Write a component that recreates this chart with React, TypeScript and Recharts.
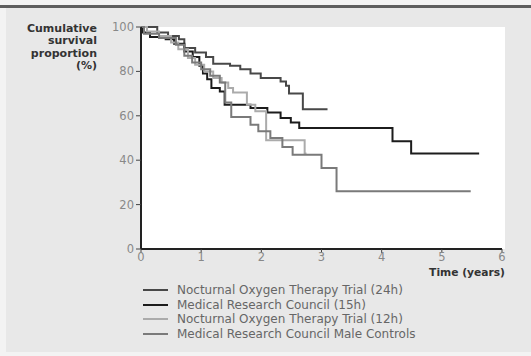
import { LineChart, Line, XAxis, YAxis, Legend, Label } from 'recharts'

// Kaplan-Meier steps: time in years, cumulative survival in %
const nott24Time = [0, 0.27, 0.45, 0.63, 0.72, 0.9, 1.08, 1.2, 1.48, 1.65, 1.82, 1.99, 2.32, 2.41, 2.46, 2.69, 3.1]
const nott24Surv = [100, 97.5, 96, 94.5, 90.5, 88.5, 86.5, 83.5, 82.5, 81, 79, 77, 75.5, 73.5, 70, 63, 63]

const mrc15Time = [0, 0.03, 0.15, 0.41, 0.55, 0.72, 0.86, 0.97, 1.03, 1.1, 1.17, 1.31, 1.39, 1.82, 2.1, 2.32, 2.49, 2.63, 4.18, 4.49, 5.62]
const mrc15Surv = [100, 97.5, 95.5, 94.5, 92.5, 89, 86.5, 82.5, 79, 76.5, 72.5, 71, 65, 63.5, 61.5, 59, 57, 54.5, 48.5, 43, 43]

const nott12Time = [0, 0.1, 0.3, 0.5, 0.62, 0.78, 0.9, 1.05, 1.2, 1.34, 1.45, 1.53, 1.76, 1.9, 2.08, 2.72, 2.75]
const nott12Surv = [100, 98, 96, 93, 90, 86, 83, 80, 77, 75, 72.5, 70.5, 65, 62, 49, 43, 43]

const mrcCtrlTime = [0, 0.05, 0.3, 0.58, 0.72, 0.85, 1.0, 1.15, 1.31, 1.4, 1.5, 1.82, 1.95, 2.15, 2.35, 2.52, 3.0, 3.25, 5.48]
const mrcCtrlSurv = [100, 97, 95, 92, 87, 84, 81, 78, 75, 66, 59.5, 56, 53, 50, 46, 42.5, 36.5, 26, 26]

const xTicks = [0, 1, 2, 3, 4, 5, 6]
const yTicks = [0, 20, 40, 60, 80, 100]
const yLabelLines = ['Cumulative', 'survival', 'proportion', '(%)']

const toRows = (t: number[], s: number[]) => t.map((v, i) => ({ t: v, s: s[i] }))

const series = [
  { name: 'Nocturnal Oxygen Therapy Trial (24h)', data: toRows(nott24Time, nott24Surv), color: '#484848' },
  { name: 'Medical Research Council (15h)', data: toRows(mrc15Time, mrc15Surv), color: '#1c1c1c' },
  { name: 'Nocturnal Oxygen Therapy Trial (12h)', data: toRows(nott12Time, nott12Surv), color: '#ababab' },
  { name: 'Medical Research Council Male Controls', data: toRows(mrcCtrlTime, mrcCtrlSurv), color: '#7a7a7a' },
]

const font = '"DejaVu Sans", sans-serif'

// keep the legend in series order (recharts sorts its payload by name)
function LegendBox() {
  return (
    <div style={{ fontFamily: font, fontSize: 12, color: '#666' }}>
      {series.map((e) => (
        <div key={e.name} style={{ display: 'flex', alignItems: 'center', height: 14.5 }}>
          <span style={{ display: 'inline-block', width: 25, height: 2, background: e.color, marginRight: 9 }} />
          <span>{e.name}</span>
        </div>
      ))}
    </div>
  )
}

export default function App() {
  return (
    <div style={{ position: 'absolute', left: 0, top: 0, width: 531, height: 356, background: '#f3f3f3', overflow: 'hidden' }}>
      <div style={{ position: 'absolute', left: 0, top: 5, width: 531, height: 3, background: '#5e5e5e' }} />
      <div style={{ position: 'absolute', left: 6, top: 8, width: 525, height: 344, background: '#e8e8e8' }} />
      <div style={{ position: 'absolute', left: 141, top: 27, width: 364, height: 222, background: '#fff' }} />
      <div style={{ position: 'absolute', left: 0, top: 0 }}>
        <LineChart width={531} height={356} margin={{ top: 27, right: 29, bottom: 0, left: 0 }}>
          <XAxis
            dataKey="t"
            type="number"
            domain={[0, 6]}
            ticks={xTicks}
            height={107}
            tickSize={4}
            tickMargin={0}
            axisLine={{ stroke: '#222', strokeWidth: 2 }}
            tickLine={{ stroke: '#444' }}
            tick={{ fill: '#888', fontSize: 11.5, fontFamily: font }}
            allowDuplicatedCategory={false}
          >
            <Label
              content={({ viewBox }: any) => (
                <text
                  x={viewBox.x + viewBox.width + 3}
                  y={viewBox.y + 27}
                  textAnchor="end"
                  fontFamily={font}
                  fontSize={10.7}
                  fontWeight="bold"
                  fill="#333"
                >
                  Time (years)
                </text>
              )}
            />
          </XAxis>
          <YAxis
            type="number"
            domain={[0, 100]}
            ticks={yTicks}
            width={141}
            tickSize={5}
            tickMargin={2}
            axisLine={{ stroke: '#222', strokeWidth: 2 }}
            tickLine={{ stroke: '#444' }}
            tick={{ fill: '#888', fontSize: 11.5, fontFamily: font }}
          >
            <Label
              content={() => (
                <text x={97} y={32} textAnchor="end" fontFamily={font} fontSize={11} fontWeight="bold" fill="#333">
                  {yLabelLines.map((l, i) => (
                    <tspan key={l} x={97} dy={i === 0 ? 0 : 12.3}>
                      {l}
                    </tspan>
                  ))}
                </text>
              )}
            />
          </YAxis>
          <Legend
            layout="horizontal"
            verticalAlign="middle"
            align="center"
            wrapperStyle={{ top: 283, left: 143, width: 340, height: 60 }}
            content={<LegendBox />}
          />
          {series.map((s) => (
            <Line
              key={s.name}
              name={s.name}
              data={s.data}
              dataKey="s"
              type="stepAfter"
              stroke={s.color}
              strokeWidth={2}
              dot={false}
              isAnimationActive={false}
            />
          ))}
        </LineChart>
      </div>
    </div>
  )
}
